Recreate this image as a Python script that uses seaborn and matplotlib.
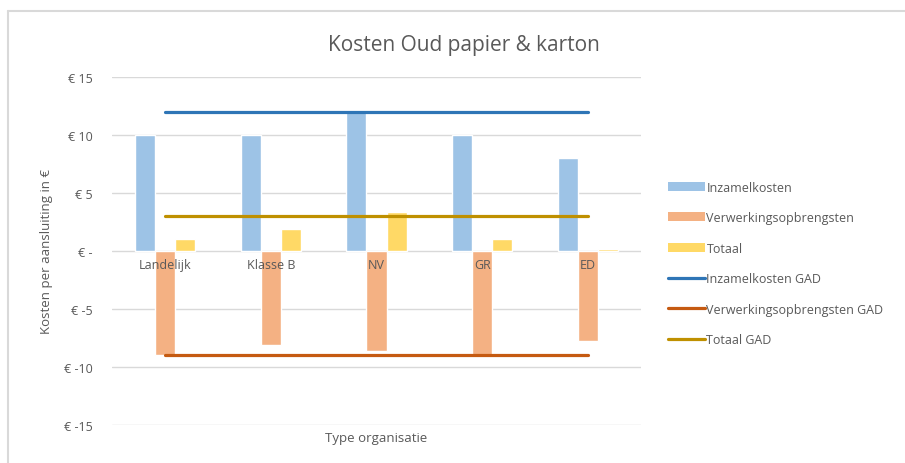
import pandas as pd
import matplotlib.pyplot as plt
import seaborn as sns
from matplotlib.patches import Patch
from matplotlib.lines import Line2D

# data
categories = ["Landelijk", "Klasse B", "NV", "GR", "ED"]
inzamelkosten = [10.0, 10.0, 12.0, 10.0, 8.0]
verwerking = [-9.0, -8.1, -8.6, -9.0, -7.8]
totaal = [1.0, 1.9, 3.4, 1.0, 0.2]
gad_inzamel = 12.0
gad_verwerking = -9.0
gad_totaal = 3.0

series = ["Inzamelkosten", "Verwerkingsopbrengsten", "Totaal"]
bar_colors = ["#9DC3E6", "#F4B183", "#FFD966"]
line_colors = ["#2E75B6", "#C55A11", "#BF9000"]
grey = "#595959"

df = pd.DataFrame({
    "Type": categories * 3,
    "Serie": [s for s in series for _ in categories],
    "Waarde": inzamelkosten + verwerking + totaal,
})

sns.set_theme(style="white")
plt.rcParams["font.family"] = ["Open Sans", "DejaVu Sans"]

fig = plt.figure(figsize=(9.05, 4.64), dpi=100)
ax = fig.add_axes([0.1238, 0.082, 0.5845, 0.75])

sns.barplot(data=df, x="Type", y="Waarde", hue="Serie", hue_order=series,
            order=categories, palette=bar_colors, width=0.57, saturation=1,
            legend=False, ax=ax)

xs = list(range(len(categories)))
n = len(categories)
for val, col in zip([gad_inzamel, gad_verwerking, gad_totaal], line_colors):
    sns.lineplot(x=xs, y=[val] * n, color=col, linewidth=2.3, ax=ax)

ax.set_xlim(-0.5, n - 0.5)
ax.set_ylim(-15, 15)
ax.set_yticks([-15, -10, -5, 0, 5, 10, 15])
ax.set_yticklabels(["€ -15", "€ -10", "€ -5", "€ -", "€ 5", "€ 10", "€ 15"])
ax.yaxis.grid(True, color="#D9D9D9", linewidth=1)
ax.set_axisbelow(True)
ax.xaxis.set_zorder(5)  # category labels drawn over the bars, as in Excel
for s in ["top", "right", "left"]:
    ax.spines[s].set_visible(False)
ax.spines["bottom"].set_position(("data", 0))
ax.spines["bottom"].set_color("none")
ax.tick_params(axis="both", length=0, colors=grey, labelsize=9)
ax.tick_params(axis="x", pad=5)
ax.tick_params(axis="y", pad=14)

ax.set_xlabel("Type organisatie", color=grey, fontsize=9.5)
ax.xaxis.set_label_coords(0.5, -0.035)
ax.xaxis.label.set_va("center")
ax.set_ylabel("Kosten per aansluiting in €", color=grey, fontsize=9.5)
ax.yaxis.set_label_coords(-0.124, 0.5)
ax.yaxis.label.set_va("center")

fig.text(0.513, 0.903, "Kosten Oud papier & karton", ha="center", va="center",
         fontsize=15, color=grey)

handles = [Patch(facecolor=c, edgecolor="none") for c in bar_colors]
handles += [Line2D([], [], color=c, linewidth=2.3) for c in line_colors]
labels = series + [s + " GAD" for s in series]
leg = fig.legend(handles, labels, loc="center left", bbox_to_anchor=(0.733, 0.43),
                 frameon=False, fontsize=9, handlelength=2.9, handletextpad=0.15,
                 labelspacing=1.4, borderaxespad=0)
for t in leg.get_texts():
    t.set_color(grey)

# light chart border (top and left edges visible)
fig.add_artist(Line2D([8 / 905, 1], [1 - 12 / 464] * 2, color="#D9D9D9",
                      linewidth=1.5, transform=fig.transFigure))
fig.add_artist(Line2D([8 / 905] * 2, [0, 1 - 12 / 464], color="#D9D9D9",
                      linewidth=1.5, transform=fig.transFigure))

fig.savefig("out.png", dpi=100)
